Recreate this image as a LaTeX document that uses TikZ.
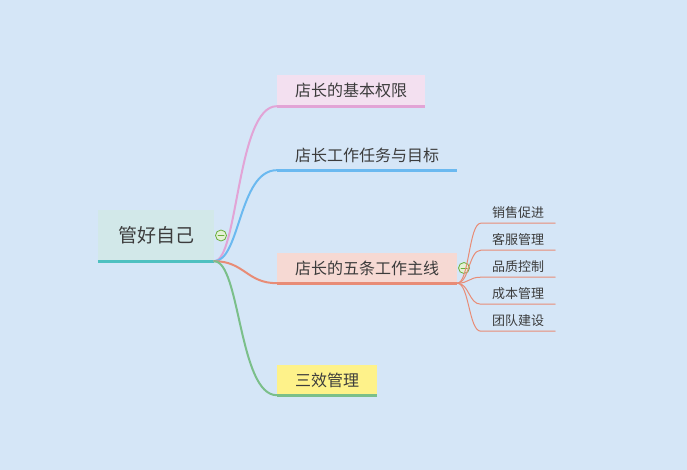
\documentclass[tikz,border=0pt]{standalone}
\usepackage{fontspec}
\setmainfont{Noto Sans CJK SC}
\usepackage{tikz}
\definecolor{bg}{HTML}{D5E6F7}
\definecolor{ink}{HTML}{3C3C3C}
\definecolor{rootfill}{HTML}{D2E8E9}
\definecolor{rootline}{HTML}{4EC0C0}
\definecolor{pinkfill}{HTML}{F3E0F0}
\definecolor{pinkline}{HTML}{E2A4D6}
\definecolor{blueline}{HTML}{6BB9F0}
\definecolor{redfill}{HTML}{F6D9D3}
\definecolor{redline}{HTML}{E88C76}
\definecolor{yelfill}{HTML}{FEF28A}
\definecolor{greenline}{HTML}{7BBF8A}
\definecolor{minusline}{HTML}{6AAF3A}
\definecolor{minusfill}{HTML}{E4F1D6}
\tikzstyle{topic}=[rectangle,inner sep=0pt,text=ink,font=\fontsize{16}{16}\selectfont]
\tikzstyle{subtopic}=[rectangle,inner sep=0pt,text=ink,minimum width=74pt,
minimum height=20pt,font=\fontsize{13}{13}\selectfont]
\tikzstyle{fold}=[circle,draw=minusline,fill=minusfill,line width=0.8pt,
inner sep=0pt,minimum size=11pt]

\begin{document}
\begin{tikzpicture}[x=1pt,y=-1pt,line cap=round]
	
	\useasboundingbox [fill=bg] (0,0) rectangle (687,470);
	
	\node  (t0)   at (156,235.5) [topic,fill=rootfill,minimum width=116pt,minimum height=51pt,font=\fontsize{19}{19}\selectfont] {管好自己};
	\node  (t1)   at (351,90.5) [topic,fill=pinkfill,minimum width=148pt,minimum height=31pt] {店长的基本权限};
	\node  (t2)   at (367,155) [topic,minimum width=180pt,minimum height=30pt] {店长工作任务与目标};
	\node  (t3)   at (367,268) [topic,fill=redfill,minimum width=180pt,minimum height=30pt] {店长的五条工作主线};
	\node  (t4)   at (327,380) [topic,fill=yelfill,minimum width=100pt,minimum height=30pt] {三效管理};
	\node  (s1)   at (518,213) [subtopic] {销售促进};
	\node  (s2)   at (518,240) [subtopic] {客服管理};
	\node  (s3)   at (518,267) [subtopic] {品质控制};
	\node  (s4)   at (518,294) [subtopic] {成本管理};
	\node  (s5)   at (518,321) [subtopic] {团队建设};
	\node  (f0)   at (221,235.5) [fold] {};
	\node  (f3)   at (464,268) [fold] {};
	
	\draw [line width=1pt,draw=minusline] ([xshift=-3pt]f0.center) to ([xshift=3pt]f0.center);
	\draw [line width=1pt,draw=minusline] ([xshift=-3pt]f3.center) to ([xshift=3pt]f3.center);
	
	\draw [line width=3pt,draw=rootline,line cap=butt] (t0.south west) to (t0.south east);
	\draw [line width=3pt,draw=pinkline,line cap=butt] (t1.south west) to (t1.south east);
	\draw [line width=3pt,draw=blueline,line cap=butt] (t2.south west) to (t2.south east);
	\draw [line width=3pt,draw=redline,line cap=butt] (t3.south west) to (t3.south east);
	\draw [line width=3pt,draw=greenline,line cap=butt] (t4.south west) to (t4.south east);
	
	\draw [line width=2pt,draw=pinkline] (t0.south east) .. controls +(24,0) and +(-40,0) .. (t1.south west);
	\draw [line width=2pt,draw=blueline] (t0.south east) .. controls +(26,0) and +(-38,0) .. (t2.south west);
	\draw [line width=2pt,draw=redline] (t0.south east) .. controls +(30,0) and +(-30,0) .. (t3.south west);
	\draw [line width=2pt,draw=greenline] (t0.south east) .. controls +(26,0) and +(-38,0) .. (t4.south west);
	
	\draw [line width=1pt,draw=redline] (t3.south east) .. controls +(12,0) and +(-12,0) .. (s1.south west) to (s1.south east);
	\draw [line width=1pt,draw=redline] (t3.south east) .. controls +(12,0) and +(-12,0) .. (s2.south west) to (s2.south east);
	\draw [line width=1pt,draw=redline] (t3.south east) .. controls +(12,0) and +(-12,0) .. (s3.south west) to (s3.south east);
	\draw [line width=1pt,draw=redline] (t3.south east) .. controls +(12,0) and +(-12,0) .. (s4.south west) to (s4.south east);
	\draw [line width=1pt,draw=redline] (t3.south east) .. controls +(12,0) and +(-12,0) .. (s5.south west) to (s5.south east);
		
	\end{tikzpicture}
\end{document}
